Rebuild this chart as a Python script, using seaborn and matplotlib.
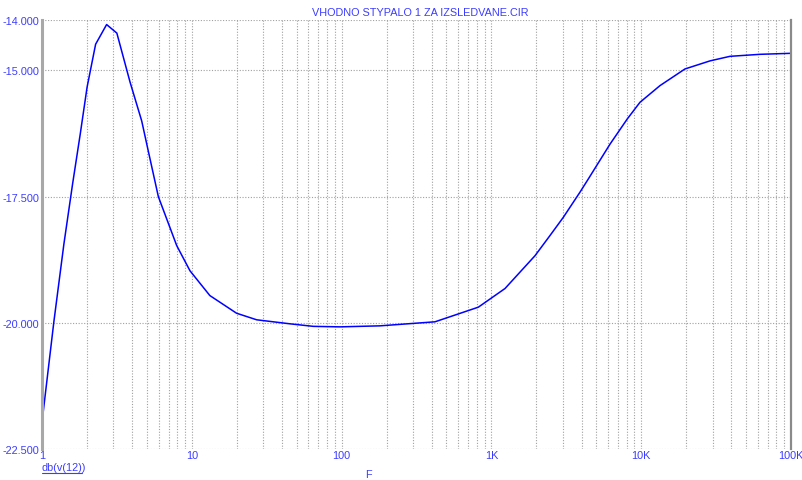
"""
Recreate the PSpice-style frequency response plot: db(v(12)) vs F (log scale).
"""

import numpy as np
import pandas as pd
import matplotlib
matplotlib.use("Agg")
import matplotlib.pyplot as plt
import seaborn as sns
from matplotlib.ticker import FixedLocator, FixedFormatter, NullFormatter

# ---------- data ----------
freq = [1.0, 1.2, 1.4, 1.6, 1.8, 2.0, 2.28, 2.7, 3.16, 3.87, 4.63, 5.1, 5.98,
        7.93, 9.73, 13.2, 19.9, 27.1, 45.3, 64.7, 97.6, 180, 420, 818, 1233,
        1955, 2462, 3020, 3905, 4435, 6190, 8075, 9818, 13350, 19600, 28800,
        39100, 62100, 100000]
db_v12 = [-21.97, -19.98, -18.44, -17.25, -16.26, -15.33, -14.48, -14.09,
          -14.26, -15.23, -16.00, -16.57, -17.50, -18.47, -18.97, -19.46,
          -19.81, -19.94, -20.02, -20.07, -20.08, -20.06, -19.98, -19.69,
          -19.32, -18.67, -18.27, -17.91, -17.41, -17.15, -16.46, -15.96,
          -15.63, -15.30, -14.97, -14.81, -14.72, -14.68, -14.66]

y_ticks = [-22.5, -20.0, -17.5, -15.0, -14.0]
y_tick_labels = ["-22.500", "-20.000", "-17.500", "-15.000", "-14.000"]
x_ticks = [1, 10, 100, 1000, 10000, 100000]
x_tick_labels = ["1", "10", "100", "1K", "10K", "100K"]

title = "VHODNO STYPALO 1 ZA IZSLEDVANE.CIR"
trace_name = "db(v(12))"
x_name = "F"

# ---------- styling ----------
sns.set_style("white")
plt.rcParams["font.family"] = ["Liberation Sans", "DejaVu Sans"]
text_blue = "#3c3cff"
grid_gray = "#a0a0a0"

df = pd.DataFrame({"F": freq, "db": db_v12})

fig = plt.figure(figsize=(8.03, 4.81), dpi=100)
ax = fig.add_axes([42 / 803, 1 - 450 / 481, (791 - 42) / 803, (450 - 21) / 481])

sns.lineplot(data=df, x="F", y="db", ax=ax, color="#0000ff", linewidth=1.1)

ax.set_xscale("log")
ax.set_xlim(1, 100000)
ax.set_ylim(-22.5, -14.0)

# major + minor x grid (every decade subdivision), y grid at ticks
ax.xaxis.set_major_locator(FixedLocator(x_ticks))
ax.xaxis.set_major_formatter(FixedFormatter(x_tick_labels))
minor = [m * 10 ** d for d in range(0, 5) for m in range(2, 10)]
ax.xaxis.set_minor_locator(FixedLocator(minor))
ax.xaxis.set_minor_formatter(NullFormatter())
ax.yaxis.set_major_locator(FixedLocator(y_ticks))
ax.yaxis.set_major_formatter(FixedFormatter(y_tick_labels))

ax.grid(True, which="both", axis="x", color=grid_gray, linestyle=(0, (1, 1.5)),
        linewidth=0.8)
ax.grid(True, which="major", axis="y", color=grid_gray, linestyle=(0, (1, 1.5)),
        linewidth=0.8)

ax.tick_params(axis="both", which="both", length=0, labelsize=7.8,
               labelcolor=text_blue)
ax.tick_params(axis="x", pad=0.5)
ax.tick_params(axis="y", pad=2)

for side in ["top", "bottom"]:
    ax.spines[side].set_visible(False)
ax.spines["left"].set_color("#a8a8a8")
ax.spines["left"].set_linewidth(2.2)
ax.spines["right"].set_color("#8a8a8a")
ax.spines["right"].set_linewidth(1.6)

ax.set_xlabel("")
ax.set_ylabel("")

fig.text(420 / 803, 1 - 13 / 481, title, color=text_blue, fontsize=7.8,
         ha="center", va="center")
fig.text(42 / 803, 1 - 468 / 481, trace_name, color=text_blue, fontsize=7.8,
         ha="left", va="center")
# underline for the trace name
fig.add_artist(plt.Line2D([42 / 803, 82 / 803], [1 - 474 / 481, 1 - 474 / 481],
                          color=text_blue, linewidth=0.8))
fig.text(368 / 803, 1 - 475 / 481, x_name, color=text_blue, fontsize=7.8,
         ha="center", va="center")

fig.savefig("out.png", dpi=100)
